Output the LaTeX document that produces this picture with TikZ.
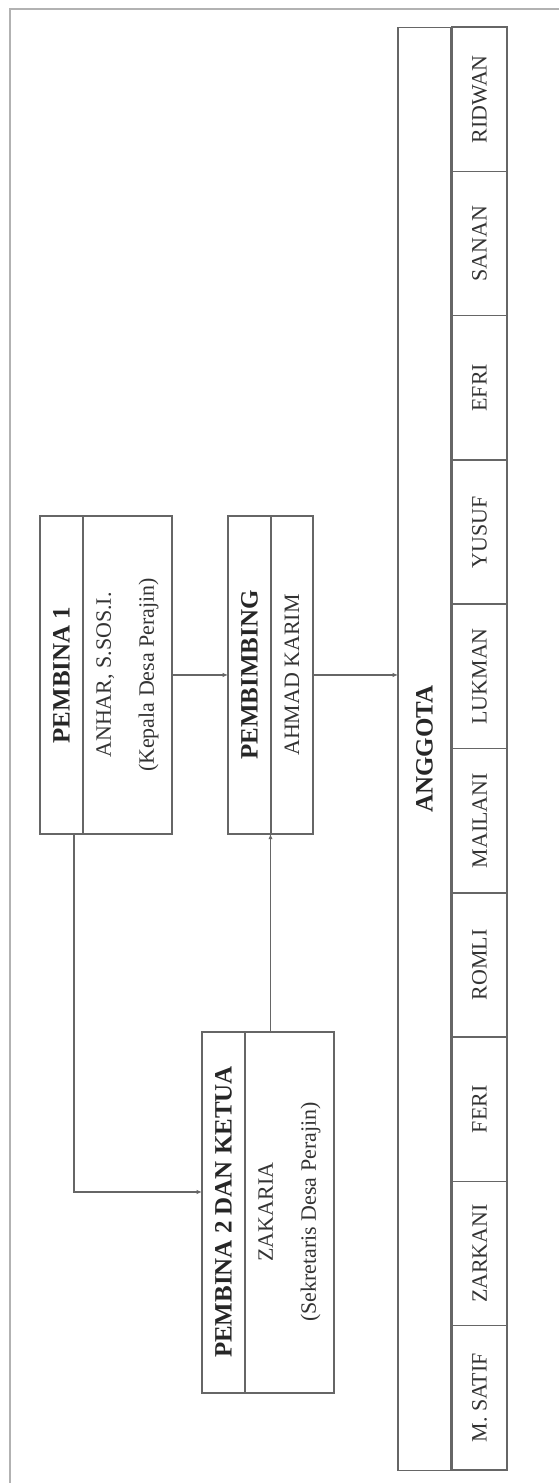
\documentclass[tikz,border=0pt]{standalone}
\usepackage{fontspec}
\setmainfont{Liberation Serif}
\usetikzlibrary{arrows.meta}

\tikzset{
    box/.style={draw=black!60, line width=0.8pt, anchor=north west, inner sep=0pt, outer sep=0pt},
    title/.style={rotate=90, font=\fontsize{14.2}{17}\selectfont\bfseries, text=black!85},
    info/.style={rotate=90, font=\fontsize{12.5}{24.4}\selectfont, text=black!80, align=center},
    member/.style={draw=black!60, line width=0.8pt, rotate=90, inner sep=0pt, outer sep=0pt,
        minimum width=2.886cm, minimum height=1.10cm, font=\fontsize{12.5}{15}\selectfont, text=black!80},
    divider/.style={draw=black!60, line width=0.8pt},
    link/.style={draw=black!60, line width=0.7pt, -{Latex[length=3pt,width=2.5pt]}}
}

\begin{document}
\begin{tikzpicture}[x=0.02cm, y=-0.02cm]
    \useasboundingbox (0,0) rectangle (558,1483);
    \draw[black!30, line width=1pt] (10,9) rectangle (590,1510);

    \node[box, minimum width=2.64cm, minimum height=6.36cm] (pembinaA) at (40,516) {};
    \draw[divider] (83,516) -- (83,834);
    \node[title] (pembinaAtitle) at (61.5,675) {PEMBINA 1};
    \node[info] (pembinaAinfo) at (127.5,675) {ANHAR, S.SOS.I.\\(Kepala Desa Perajin)};

    \node[box, minimum width=1.70cm, minimum height=6.36cm] (pembimbing) at (228,516) {};
    \draw[divider] (271,516) -- (271,834);
    \node[title] (pembimbingtitle) at (249.5,675) {PEMBIMBING};
    \node[info] (pembimbinginfo) at (292,675) {AHMAD KARIM};

    \node[box, minimum width=2.64cm, minimum height=7.22cm] (pembinaB) at (202,1032) {};
    \draw[divider] (245,1032) -- (245,1393);
    \node[title] (pembinaBtitle) at (223.5,1212) {PEMBINA 2 DAN KETUA};
    \node[info] (pembinaBinfo) at (289.5,1212) {ZAKARIA\\(Sekretaris Desa Perajin)};

    \node[title, draw=black!60, line width=0.8pt, inner sep=0pt, outer sep=0pt,
        minimum width=28.86cm, minimum height=1.06cm] (anggota) at (424.5,749) {ANGGOTA};

    \foreach \name [count=\i from 0] in {RIDWAN,SANAN,EFRI,YUSUF,LUKMAN,MAILANI,ROMLI,FERI,ZARKANI,M. SATIF}
        \node[member] (member\i) at (479.5,{99.15+144.3*\i}) {\name};

    \draw[link] (pembinaA.east) -- (pembimbing.west);
    \draw[link] (pembimbing.east) -- (pembimbing.east -| anggota.north);
    \draw[link] ([xshift=0.68cm]pembinaA.south west) |- ([yshift=0.41cm]pembinaB.west);
    \draw[link] (pembinaB.north -| pembimbing.south) -- (pembimbing.south);
\end{tikzpicture}
\end{document}
